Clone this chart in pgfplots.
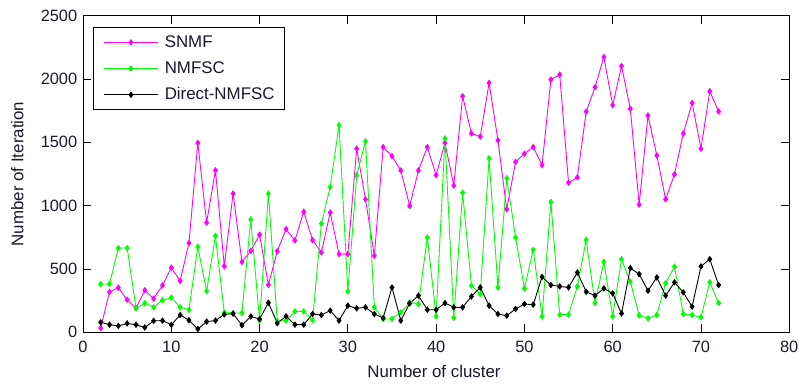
\documentclass[border=0pt]{standalone}
\usepackage{pgfplots}
\usepackage{pgfplotstable}
\pgfplotsset{compat=1.18}
\usepackage{fontspec}
\setmainfont{Liberation Sans}
\definecolor{txt}{RGB}{25,25,45}
\definecolor{mag}{RGB}{255,0,255}
\definecolor{grn}{RGB}{0,255,0}
\pgfplotstableread{
x snmf nmfsc direct
2 33 381 79
3 318 381 60
4 352 665 50
5 256 665 70
6 189 190 59
7 332 230 38
8 265 197 90
9 370 253 92
10 510 274 59
11 405 197 136
12 705 177 95
13 1495 675 26
14 866 324 84
15 1278 761 92
16 522 155 141
17 1095 152 147
18 555 152 56
19 643 890 125
20 771 92 104
21 374 1094 233
22 640 90 72
23 814 92 126
24 725 165 60
25 952 165 60
26 728 97 144
27 630 858 136
28 945 1147 171
29 617 1635 92
30 617 323 210
31 1449 1239 189
32 1050 1508 197
33 604 197 144
34 1462 105 113
35 1391 105 354
36 1278 157 92
37 997 236 228
38 1278 223 289
39 1462 748 178
40 1241 126 178
41 1496 1530 231
42 1158 114 197
43 1864 1102 197
44 1570 367 283
45 1545 302 354
46 1969 1373 210
47 1515 354 144
48 971 1215 131
49 1345 748 184
50 1410 346 223
51 1463 651 218
52 1320 125 437
53 1995 1029 373
54 2034 139 362
55 1181 139 354
56 1223 362 472
57 1742 730 320
58 1935 231 289
59 2173 556 346
60 1793 126 307
61 2102 577 148
62 1764 399 507
63 1008 133 459
64 1711 110 328
65 1396 136 433
66 1050 388 289
67 1247 517 394
68 1570 144 315
69 1811 136 202
70 1449 118 520
71 1903 394 577
72 1743 231 373
}\datatable
\begin{document}
\fontsize{17}{20}\selectfont
\begin{tikzpicture}
\path[use as bounding box] (-83.3bp,-51.7bp) rectangle (718.2bp,333.3bp);
\begin{axis}[
  at={(0,0)}, anchor=south west,
  scale only axis, width=708.4bp, height=317.6bp,
  xmin=0, xmax=80, ymin=0, ymax=2500,
  xtick={0,10,...,80}, ytick={0,500,...,2500},
  scaled y ticks=false,
  /pgf/number format/1000 sep={},
  /pgf/number format/assume math mode=true,
  tick align=inside, major tick length=8bp,
  axis line style={line width=0.9bp},
  every tick/.style={black, line width=0.8bp},
  tick label style={font=\fontsize{16.5}{19}\selectfont, text=txt},
  xticklabel style={yshift=-2.5bp},
  yticklabel style={xshift=0bp},
  label style={font=\fontsize{17}{20}\selectfont, text=txt},
  xlabel={Number of cluster},
  ylabel={Number of Iteration},
  xlabel style={at={(axis description cs:0.497,-0.123)}, anchor=center},
  ylabel style={at={(axis description cs:-0.0932,0.5)}, anchor=center},
  legend style={at={(rel axis cs:0.0137,0.964)}, anchor=north west,
    draw=black, line width=0.8bp, fill=white,
    inner xsep=10bp, inner ysep=7bp,
    row sep=10.3bp, column sep=6bp,
    font=\fontsize{17}{20}\selectfont, text=txt,
    nodes={inner sep=0pt, text height=13bp, text depth=3bp}},
  legend cell align=left,
  legend image code/.code={\draw[mark repeat=2,mark phase=2,#1] plot coordinates {(0bp,0bp) (27.5bp,0bp) (55bp,0bp)};},
  every axis plot/.append style={line width=0.9bp, mark=diamond*, mark size=2.6bp},
]
\addplot[mag, mark options={fill=mag, draw=mag}] table[x=x, y=snmf] {\datatable};
\addlegendentry{SNMF}
\addplot[grn, mark options={fill=grn, draw=grn}] table[x=x, y=nmfsc] {\datatable};
\addlegendentry{NMFSC}
\addplot[black, mark options={fill=black, draw=black}] table[x=x, y=direct] {\datatable};
\addlegendentry{Direct-NMFSC}
\end{axis}
\end{tikzpicture}
\end{document}
